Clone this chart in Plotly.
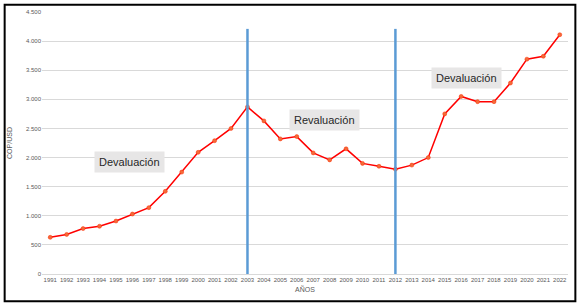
import plotly.graph_objects as go

years = list(range(1991, 2023))
cop_usd = [630, 680, 780, 820, 910, 1030, 1140, 1420, 1750, 2090, 2290, 2500,
           2870, 2630, 2320, 2360, 2080, 1960, 2150, 1900, 1850, 1800, 1870, 2000,
           2750, 3050, 2960, 2960, 3280, 3690, 3740, 4110]
break_years = [2003, 2012]
labels = ["Devaluación", "Revaluación", "Devaluación"]
label_x = [1995.85, 2007.7, 2016.3]
label_y = [1920, 2650, 3360]

fig = go.Figure()
fig.add_trace(go.Scatter(
    x=years, y=cop_usd, mode="lines+markers",
    line=dict(color="#FF0000", width=1.5),
    marker=dict(size=4, color="#F26B3A", line=dict(color="#FF2A00", width=0.5)),
    showlegend=False, hoverinfo="x+y"))

for yr in break_years:
    fig.add_shape(type="line", xref="x", yref="y", x0=yr, x1=yr, y0=0, y1=4210,
                  line=dict(color="#5B9BD5", width=2.5))

for t, xx, yy in zip(labels, label_x, label_y):
    fig.add_annotation(x=xx, y=yy, xref="x", yref="y", text=t, showarrow=False,
                       font=dict(family="Liberation Sans, Arial", size=11, color="#262626"),
                       bgcolor="#E7E6E6", borderpad=4)

# outer frame
fig.add_shape(type="rect", xref="paper", yref="paper",
              x0=-0.071, x1=1.014, y0=-0.104, y1=1.028,
              line=dict(color="black", width=2), fillcolor="rgba(0,0,0,0)", layer="above")

fig.update_layout(
    width=579, height=308,
    margin=dict(l=40, r=11, t=9, b=34),
    paper_bgcolor="white", plot_bgcolor="white",
    separators=",.",
    font=dict(family="Liberation Sans, Arial", color="#595959"),
    xaxis=dict(range=[1990.5, 2022.5], tickmode="array", tickvals=years,
               ticktext=[str(y) for y in years], tickfont=dict(size=6, color="#595959"),
               showgrid=False, zeroline=False, showline=True, linecolor="#D9D9D9",
               ticks="", tickangle=0,
               title=dict(text="AÑOS", font=dict(size=7, color="#595959"), standoff=4)),
    yaxis=dict(range=[0, 4500], dtick=500, tickformat=",", tickfont=dict(size=6, color="#595959"),
               showgrid=True, gridcolor="#D9D9D9", gridwidth=1, zeroline=False,
               showline=False, ticks="",
               title=dict(text="COP/USD", font=dict(size=7, color="#595959"), standoff=12)),
)

fig.write_html("out.html", config={"displayModeBar": False},
               post_script="document.body.style.margin='0';document.body.style.overflow='hidden';")
